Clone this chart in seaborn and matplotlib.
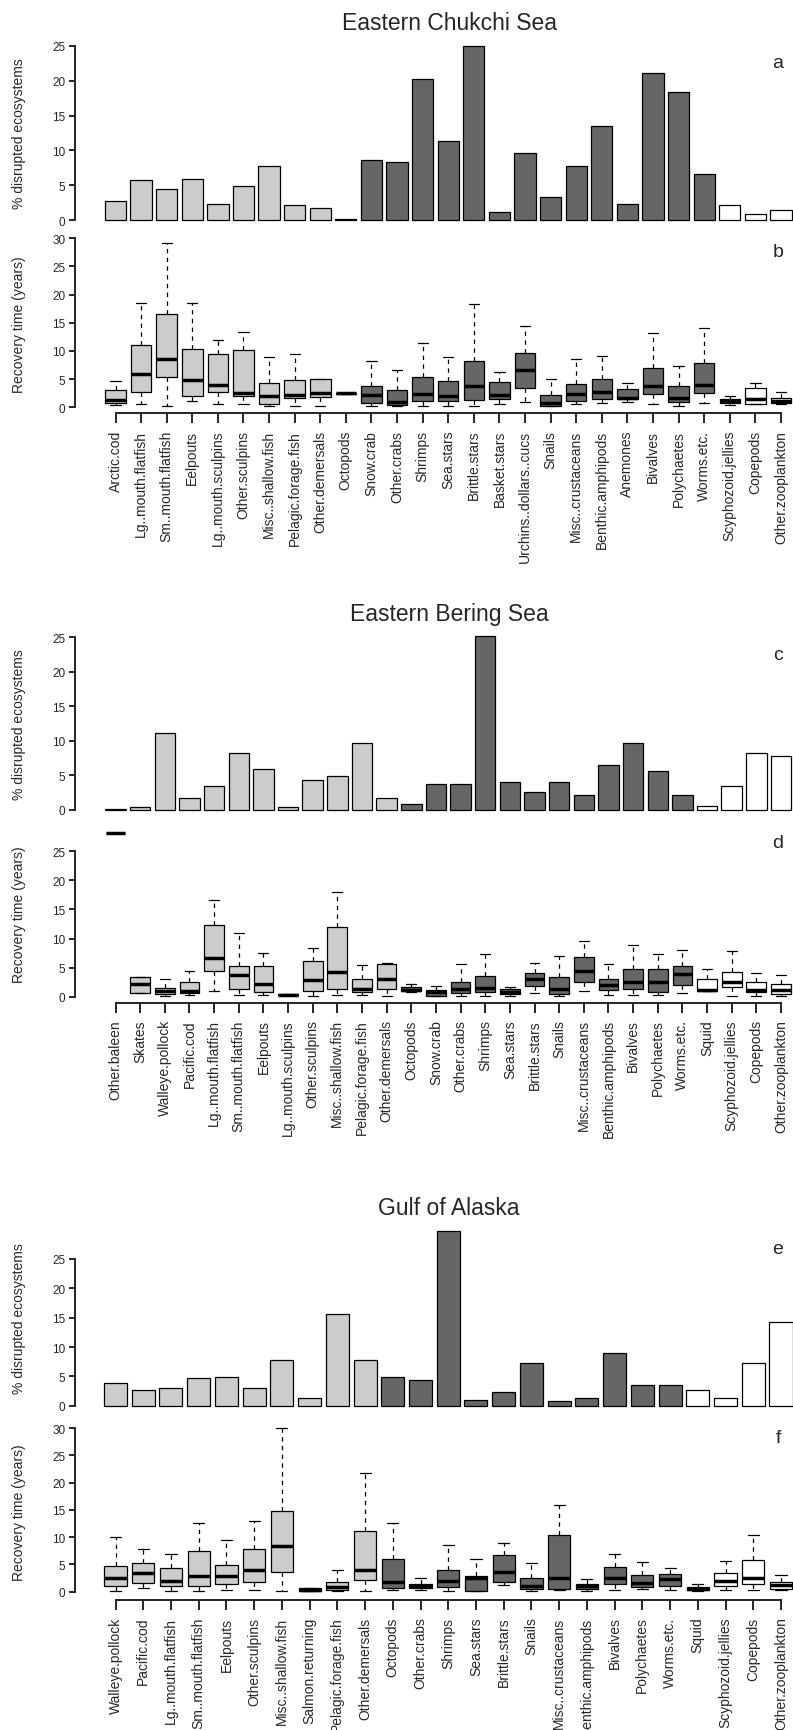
import numpy as np
import pandas as pd
import seaborn as sns
import matplotlib
matplotlib.use("Agg")
from matplotlib import pyplot as plt

sns.set_style("ticks")
plt.rcParams["font.family"] = ["Liberation Sans", "DejaVu Sans"]

group_colors = {"fish": "#cccccc", "benthic": "#666666", "plankton": "#ffffff"}

# ---- Eastern Chukchi Sea ----
ecs_names = ["Arctic.cod", "Lg..mouth.flatfish", "Sm..mouth.flatfish", "Eelpouts",
             "Lg..mouth.sculpins", "Other.sculpins", "Misc..shallow.fish",
             "Pelagic.forage.fish", "Other.demersals", "Octopods", "Snow.crab",
             "Other.crabs", "Shrimps", "Sea.stars", "Brittle.stars", "Basket.stars",
             "Urchins..dollars..cucs", "Snails", "Misc..crustaceans", "Benthic.amphipods",
             "Anemones", "Bivalves", "Polychaetes", "Worms.etc.", "Scyphozoid.jellies",
             "Copepods", "Other.zooplankton"]
ecs_groups = ["fish"] * 9 + ["benthic"] * 15 + ["plankton"] * 3
ecs_disrupted = [2.7, 5.7, 4.5, 5.9, 2.3, 4.9, 7.8, 2.1, 1.7, 0.2, 8.6, 8.4, 20.2, 11.4,
                 25.0, 1.2, 9.6, 3.3, 7.8, 13.5, 2.3, 21.1, 18.4, 6.6, 2.1, 0.8, 1.5]
ecs_lo = [0.45, 0.5, 0.3, 1.1, 0.5, 0.6, 0.3, 0.3, 0.3, 2.35, 0.3, 0.3, 0.3, 0.3, 0.3, 0.5,
          1.0, 0.2, 0.6, 0.8, 1.0, 0.5, 0.3, 0.7, 0.4, 0.5, 0.5]
ecs_q1 = [0.7, 2.8, 5.4, 1.95, 2.7, 2.0, 0.5, 1.6, 1.9, 2.4, 0.7, 0.4, 1.1, 1.2, 1.3, 1.5,
          3.4, 0.3, 1.2, 1.5, 1.4, 2.3, 0.9, 2.5, 0.7, 0.5, 0.7]
ecs_med = [1.3, 5.9, 8.6, 4.9, 4.0, 2.5, 2.0, 2.2, 2.5, 2.5, 2.1, 1.0, 2.4, 2.0, 3.8, 2.1,
           6.7, 0.8, 2.4, 2.8, 1.7, 3.7, 1.7, 3.9, 1.1, 1.5, 1.2]
ecs_q3 = [3.0, 11.1, 16.5, 10.4, 9.5, 10.2, 4.3, 4.8, 5.0, 2.55, 3.8, 3.1, 5.3, 4.6, 8.3, 4.5,
          9.6, 2.2, 4.2, 5.0, 3.2, 6.9, 3.7, 7.8, 1.4, 3.5, 1.7]
ecs_hi = [4.6, 18.5, 29.2, 18.6, 12.0, 13.4, 8.9, 9.5, 5.0, 2.6, 8.2, 6.7, 11.5, 8.9, 18.3, 6.2,
          14.5, 5.0, 8.6, 9.1, 4.4, 13.2, 7.4, 14.1, 2.0, 4.4, 2.8]

# ---- Eastern Bering Sea ----
ebs_names = ["Other.baleen", "Skates", "Walleye.pollock", "Pacific.cod", "Lg..mouth.flatfish",
             "Sm..mouth.flatfish", "Eelpouts", "Lg..mouth.sculpins", "Other.sculpins",
             "Misc..shallow.fish", "Pelagic.forage.fish", "Other.demersals", "Octopods",
             "Snow.crab", "Other.crabs", "Shrimps", "Sea.stars", "Brittle.stars", "Snails",
             "Misc..crustaceans", "Benthic.amphipods", "Bivalves", "Polychaetes", "Worms.etc.",
             "Squid", "Scyphozoid.jellies", "Copepods", "Other.zooplankton"]
ebs_groups = ["fish"] * 12 + ["benthic"] * 12 + ["plankton"] * 4
ebs_disrupted = [0.15, 0.4, 11.1, 1.8, 3.5, 8.3, 5.9, 0.4, 4.3, 4.9, 9.7, 1.8, 0.8, 3.75,
                 3.75, 25.1, 4.0, 2.55, 4.0, 2.15, 6.5, 9.7, 5.6, 2.15, 0.6, 3.4, 8.2, 7.75]
ebs_lo = [28.2, 0.7, 0.2, 0.3, 1.0, 0.3, 0.3, 0.25, 0.2, 0.3, 0.3, 0.2, 0.8, 0.1, 0.2, 0.2,
          0.2, 0.7, 0.2, 1.0, 0.3, 0.35, 0.3, 0.6, 1.0, 0.2, 0.2, 0.1]
ebs_q1 = [28.2, 0.7, 0.45, 0.6, 4.5, 1.3, 0.75, 0.3, 1.0, 1.3, 0.75, 1.4, 0.9, 0.2, 0.6, 0.75,
          0.45, 1.9, 0.45, 2.5, 1.1, 1.3, 0.8, 1.95, 1.0, 1.7, 0.75, 0.5]
ebs_med = [28.2, 2.1, 0.9, 1.0, 6.7, 3.7, 2.2, 0.35, 2.9, 4.2, 1.3, 3.0, 1.2, 0.75, 1.4, 1.5,
           0.85, 3.1, 1.4, 4.4, 2.0, 2.6, 2.5, 3.9, 1.2, 2.6, 1.2, 1.1]
ebs_q3 = [28.2, 3.3, 1.5, 2.5, 12.3, 5.3, 5.2, 0.4, 6.2, 12.0, 3.1, 5.6, 1.6, 1.2, 2.6, 3.5,
          1.4, 4.1, 3.3, 6.9, 3.0, 4.7, 4.7, 5.2, 3.0, 4.3, 2.5, 2.1]
ebs_hi = [28.2, 3.3, 3.0, 4.5, 16.6, 11.0, 7.5, 0.45, 8.3, 18.0, 5.5, 5.8, 2.1, 1.8, 5.7, 7.4,
          1.6, 5.8, 7.0, 9.5, 5.6, 8.9, 7.4, 8.1, 4.8, 7.8, 4.1, 3.8]

# ---- Gulf of Alaska ----
goa_names = ["Walleye.pollock", "Pacific.cod", "Lg..mouth.flatfish", "Sm..mouth.flatfish",
             "Eelpouts", "Other.sculpins", "Misc..shallow.fish", "Salmon.returning",
             "Pelagic.forage.fish", "Other.demersals", "Octopods", "Other.crabs", "Shrimps",
             "Sea.stars", "Brittle.stars", "Snails", "Misc..crustaceans", "Benthic.amphipods",
             "Bivalves", "Polychaetes", "Worms.etc.", "Squid", "Scyphozoid.jellies",
             "Copepods", "Other.zooplankton"]
goa_groups = ["fish"] * 10 + ["benthic"] * 11 + ["plankton"] * 4
goa_disrupted = [3.8, 2.7, 3.1, 4.7, 4.9, 2.95, 7.8, 1.25, 15.7, 7.8, 4.9, 4.4, 29.7, 0.9,
                 2.4, 7.3, 0.75, 1.25, 8.9, 3.6, 3.5, 2.7, 1.4, 7.3, 14.3]
goa_lo = [0.1, 0.6, 0.1, 0.1, 0.25, 0.25, 0.1, 0.1, 0.2, 0.1, 0.25, 0.25, 0.15, 0.05, 1.3,
          0.2, 0.3, 0.2, 0.3, 0.55, 0.3, 0.2, 0.25, 0.25, 0.3]
goa_q1 = [1.05, 1.6, 1.0, 1.0, 1.5, 1.8, 3.7, 0.15, 0.4, 2.2, 0.6, 0.6, 0.9, 0.05, 1.7, 0.5,
          0.5, 0.5, 1.35, 0.9, 1.1, 0.25, 1.05, 1.5, 0.5]
goa_med = [2.6, 3.4, 1.9, 2.8, 2.9, 3.9, 8.3, 0.4, 0.9, 3.9, 1.7, 1.0, 1.9, 2.45, 3.7, 1.05,
           2.6, 1.05, 2.45, 1.6, 2.4, 0.55, 1.95, 2.6, 1.15]
goa_q3 = [4.65, 5.3, 4.4, 7.4, 4.9, 7.8, 14.8, 0.7, 1.8, 11.1, 6.0, 1.5, 3.9, 2.8, 6.75, 2.45,
          10.35, 1.5, 4.5, 3.05, 3.25, 0.8, 3.5, 5.75, 1.8]
goa_hi = [10.0, 7.9, 6.9, 12.6, 9.5, 12.9, 30.0, 0.75, 3.9, 21.7, 12.6, 2.5, 8.5, 6.0, 8.9,
          5.3, 16.0, 2.3, 6.9, 5.5, 4.3, 1.4, 5.7, 10.35, 3.05]

W, H = 793, 1731
fig = plt.figure(figsize=(W / 100, H / 100), dpi=100)
LEFT, RIGHT = 75, 823          # plot region in pixels (runs past the right edge)
FIRST, LAST = 115.5, 781       # pixel centre of first / last category


def make_axes(top_px, bottom_px):
    return fig.add_axes([LEFT / W, 1 - bottom_px / H, (RIGHT - LEFT) / W, (bottom_px - top_px) / H])


def fit_x(ax, n):
    pitch = (LAST - FIRST) / (n - 1)
    ax.set_xlim(-(FIRST - LEFT) / pitch, n - 1 + (RIGHT - LAST) / pitch)


def style_y(ax, top_tick, label):
    ax.spines["left"].set_bounds(0, top_tick)
    ax.spines["left"].set_linewidth(1.4)
    ax.set_yticks(range(0, top_tick + 1, 5))
    ax.tick_params(axis="y", length=4, width=1.4, labelsize=8.5, pad=3)
    ax.set_ylabel(label, fontsize=10)
    ax.yaxis.set_label_coords(-0.066, 0.5)


def bar_panel(ax, names, groups, vals, ylim, title, letter, letter_y):
    pal = {nm: group_colors[g] for nm, g in zip(names, groups)}
    sns.barplot(x=names, y=vals, hue=names, order=names, hue_order=names, palette=pal,
                saturation=1, width=0.83, edgecolor="black", linewidth=0.9,
                errorbar=None, legend=False, ax=ax)
    fit_x(ax, len(names))
    ax.set_ylim(*ylim)
    sns.despine(ax=ax, bottom=True)
    ax.set_xticks([])
    ax.set_xlabel("")
    style_y(ax, 25, "% disrupted ecosystems")
    ax.set_title(title, fontsize=16.5, pad=7)
    fig.text(778 / W, 1 - letter_y / H, letter, ha="center", va="center", fontsize=14)


def box_panel(ax, names, groups, lo, q1, med, q3, hi, ylim, top_tick, letter, letter_y):
    pal = {nm: group_colors[g] for nm, g in zip(names, groups)}
    rows = []
    for stats in zip(names, lo, q1, med, q3, hi):
        for v in stats[1:]:
            rows.append((stats[0], v))
    df = pd.DataFrame(rows, columns=["group", "years"])
    sns.boxplot(data=df, x="group", y="years", hue="group", order=names, hue_order=names,
                palette=pal, saturation=1, width=0.8, whis=(0, 100), fliersize=0,
                linecolor="black", linewidth=0.9, medianprops=dict(linewidth=2.5),
                whiskerprops=dict(linestyle=(0, (3.5, 3.5))), legend=False, ax=ax)
    n = len(names)
    fit_x(ax, n)
    ax.set_ylim(*ylim)
    sns.despine(ax=ax)
    ax.spines["bottom"].set_bounds(0, n - 1)
    ax.spines["bottom"].set_linewidth(1.4)
    ax.set_xticks(range(n))
    ax.set_xticklabels(names, rotation=90, fontsize=10)
    ax.tick_params(axis="x", length=7, width=1.4, pad=5)
    ax.set_xlabel("")
    style_y(ax, top_tick, "Recovery time (years)")
    fig.text(778 / W, 1 - letter_y / H, letter, ha="center", va="center", fontsize=14)


ax_a = make_axes(40, 228)
bar_panel(ax_a, ecs_names, ecs_groups, ecs_disrupted, (-1, 26), "Eastern Chukchi Sea", "a", 63)
ax_b = make_axes(234.8, 414.2)
box_panel(ax_b, ecs_names, ecs_groups, ecs_lo, ecs_q1, ecs_med, ecs_q3, ecs_hi,
          (-1.05, 30.8), 30, "b", 253)

ax_c = make_axes(631.1, 817.9)
bar_panel(ax_c, ebs_names, ebs_groups, ebs_disrupted, (-1, 26), "Eastern Bering Sea", "c", 655)
ax_d = make_axes(826.1, 1003.5)
box_panel(ax_d, ebs_names, ebs_groups, ebs_lo, ebs_q1, ebs_med, ebs_q3, ebs_hi,
          (-1, 29.5), 25, "d", 844)

ax_e = make_axes(1224.7, 1412.6)
bar_panel(ax_e, goa_names, goa_groups, goa_disrupted, (-1, 31), "Gulf of Alaska", "e", 1250)
ax_f = make_axes(1423.8, 1600.9)
box_panel(ax_f, goa_names, goa_groups, goa_lo, goa_q1, goa_med, goa_q3, goa_hi,
          (-1.5, 31), 30, "f", 1439)

fig.savefig("out.png", dpi=100)
